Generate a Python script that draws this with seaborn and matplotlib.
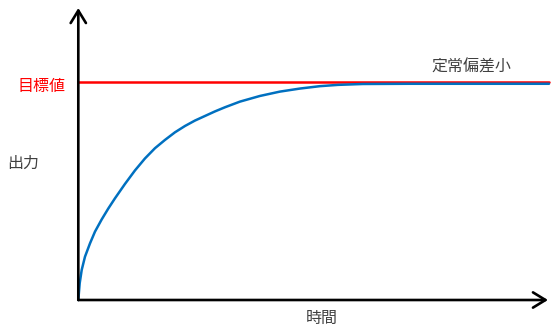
import matplotlib
matplotlib.use("Agg")
import matplotlib.pyplot as plt
import seaborn as sns
import pandas as pd

# Data (time in arbitrary units, output relative to target = 1.0)
time = [0, 1.4, 3.4, 6.7, 11.7, 16.7, 23.4, 30, 36.7, 46.7, 56.7, 66.7, 76.7, 86.7,
        96.7, 106.7, 116.7, 126.7, 136.7, 146.7, 161.7, 181.7, 201.7, 221.7, 241.7,
        260, 284.7, 330, 400, 471]
output = [0, 0.077, 0.138, 0.199, 0.260, 0.314, 0.370, 0.420, 0.467, 0.533, 0.595,
          0.650, 0.697, 0.735, 0.770, 0.799, 0.824, 0.845, 0.866, 0.885, 0.911,
          0.937, 0.957, 0.971, 0.982, 0.988, 0.992, 0.993, 0.993, 0.993]
target = 1.0
y_max = 1.341
x_max = 470

labels = {"target": "目標値", "output": "出力", "time": "時間", "note": "定常偏差小"}

sns.set_style("white")
plt.rcParams['font.family'] = ['Noto Sans CJK JP', 'DejaVu Sans']

W, H = 559, 330
fig = plt.figure(figsize=(W / 100, H / 100), dpi=100)
ax = fig.add_axes([78.3 / W, 30 / H, (548 - 78.3) / W, (300 - 8) / H])
ax.set_xlim(0, x_max)
ax.set_ylim(0, y_max)
ax.axis("off")

df = pd.DataFrame({"time": time, "output": output})

ax.axhline(target, color="#FF0000", lw=1.8, xmin=0, xmax=1.003, clip_on=False, zorder=2)
sns.lineplot(data=df, x="time", y="output", ax=ax, color="#0070C0", lw=1.8,
             legend=False, zorder=3, clip_on=False)

# axes with open arrows
arrow_kw = dict(arrowstyle="->,head_length=0.9,head_width=0.55", color="black", lw=1.9,
                shrinkA=0, shrinkB=0)
ax.annotate("", xy=(0, 1.0), xytext=(0, 0), xycoords="axes fraction",
            textcoords="axes fraction", arrowprops=arrow_kw, zorder=4)
ax.annotate("", xy=(1.0, 0), xytext=(0, 0), xycoords="axes fraction",
            textcoords="axes fraction", arrowprops=arrow_kw, zorder=4)

fig.text(41 / W, 1 - 86 / H, labels["target"], color="#FF0000", fontsize=11.5,
         ha="center", va="center")
fig.text(23 / W, 1 - 163 / H, labels["output"], color="#404040", fontsize=11.5,
         ha="center", va="center")
fig.text(321.5 / W, 1 - 318 / H, labels["time"], color="#404040", fontsize=11.5,
         ha="center", va="center")
fig.text(471.5 / W, 1 - 67 / H, labels["note"], color="#404040", fontsize=11.5,
         ha="center", va="center")

fig.savefig("out.png", dpi=100)
